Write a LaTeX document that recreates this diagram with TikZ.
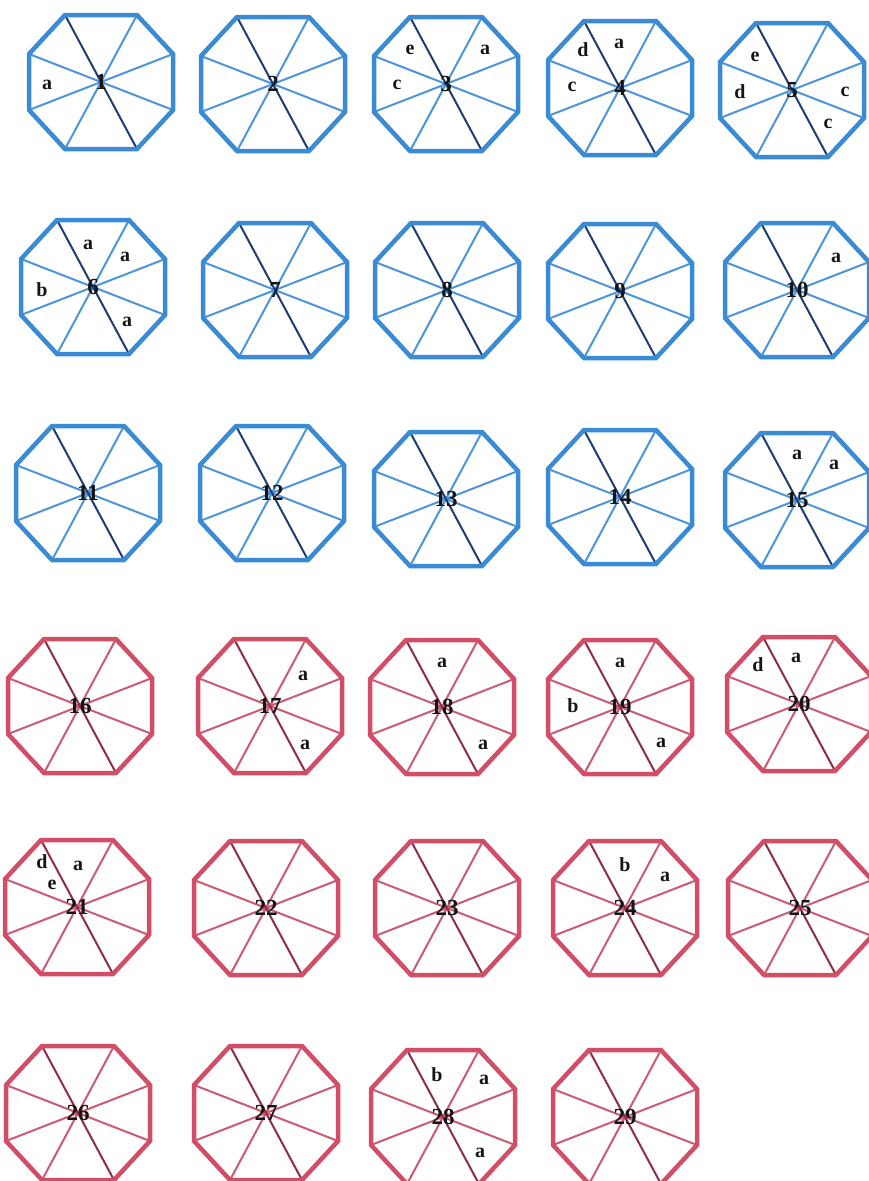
\documentclass[tikz,border=0pt]{standalone}
\usepackage{fontspec}
\setmainfont{Liberation Serif}
\definecolor{SkyRim}{HTML}{3A8BD4}
\definecolor{SkySpoke}{HTML}{4D95DA}
\definecolor{SkyDark}{HTML}{1F3D72}
\definecolor{RoseRim}{HTML}{D24D66}
\definecolor{RoseSpoke}{HTML}{CB5A73}
\definecolor{RoseDark}{HTML}{8C2E48}
\definecolor{Ink}{HTML}{151515}

\begin{document}
\begin{tikzpicture}[x=1pt,y=-1pt,
    rim/.style={line width=4.5pt,line join=miter},
    spoke/.style={line width=2pt},
    num/.style={font=\bfseries\fontsize{23}{23}\selectfont,text=Ink,inner sep=0pt},
    tag/.style={font=\bfseries\fontsize{20}{20}\selectfont,text=Ink,inner sep=0pt}]
  \useasboundingbox[fill=white] (0,0) rectangle (869,1181);
  % the 29 octagons, blue ones first
  \foreach \n/\x/\y/\col in {1/101/82/Sky,2/273/84/Sky,3/446/84/Sky,4/620/88/Sky,5/792/90/Sky,
      6/93/287/Sky,7/275/290/Sky,8/447/290/Sky,9/620/291/Sky,10/797/290/Sky,
      11/88/493/Sky,12/272/493/Sky,13/446/499/Sky,14/620/497/Sky,15/797/500/Sky,
      16/80/706/Rose,17/270/706/Rose,18/442/707/Rose,19/620/707/Rose,20/799/704/Rose,
      21/77/907/Rose,22/266/908/Rose,23/447/908/Rose,24/625/908/Rose,25/800/908/Rose,
      26/78/1113/Rose,27/266/1113/Rose,28/443/1117/Rose,29/625/1117/Rose}{
    \begin{scope}[shift={(\x,\y)}]
      \draw[\col Spoke,spoke] (36,-67) -- (-36,67) (72,-28) -- (-72,28) (72,28) -- (-72,-28);
      \draw[\col Dark,spoke] (-36,-67) -- (36,67);
      \draw[\col Rim,rim] (-36,-67) -- (36,-67) -- (72,-28) -- (72,28) -- (36,67)
        -- (-36,67) -- (-72,28) -- (-72,-28) -- cycle;
    \end{scope}
    \node[num] (oct\n) at (\x,\y) {\n};
  }
  % letters in the sectors
  \foreach \t/\x/\y [count=\k] in {a/47/85,
      e/410/50,a/485/50,c/397/85,
      d/583/50,a/619/44,c/572/87,
      e/755/57,d/740/92,c/845/92,c/828/124,
      a/88/245,a/125/257,b/42/290,a/127/322,
      a/836/258,
      a/797/455,a/834/465,
      a/303/676,a/305/745,
      a/442/663,a/483/745,
      b/573/706,a/620/663,a/661/743,
      d/758/665,a/796/658,
      d/42/862,e/52/885,a/78/866,
      b/625/865,a/665/877,
      b/437/1075,a/484/1080,a/480/1153}
    \node[tag] (tag\k) at (\x,\y) {\t};
\end{tikzpicture}
\end{document}
